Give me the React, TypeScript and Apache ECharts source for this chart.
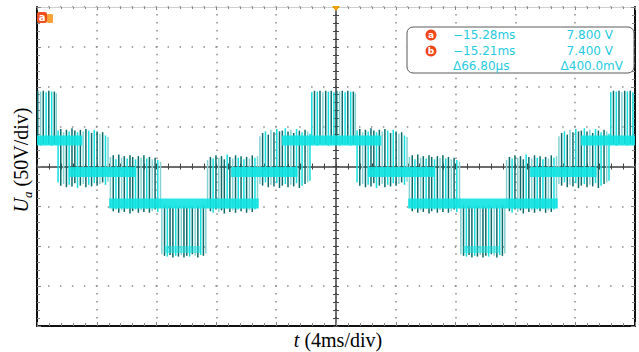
import React, { useEffect, useRef } from "react";
import * as echarts from "echarts";

// ---- axes (time in ms, voltage in V) ----
const timeMin = -20;
const timeMax = 20;
const timeStep = 4;
const voltMin = -200;
const voltMax = 200;
const voltStep = 50;

// centre times of the positive peaks of the stepped waveform (ms)
const peakTimes = [-20.17, -0.17, 19.83];

// persistent (bright) level bands, relative to a peak: start ms, end ms, level V
const bandStart = [-3.45, 2.3, 5.0, 13.15];
const bandEnd = [3.2, 6.8, 15.0, 17.6];
const bandLevel = [32.6, -6.9, -46.4, -6.9];
// faint band at the bottom of the negative peak: start, end, level
const floorBand = [8.7, 11.1, -104];

// switching pulses relative to a peak: [offset ms, low V, high V, shade]
const pulsesRise01 = [
  [-4.92, -22, 38, 2], [-4.74, -24, 42, 0], [-4.55, -20, 44, 1], [-4.36, -26, 40, 0],
  [-4.18, -23, 46, 2], [-3.98, -25, 43, 0], [-3.79, -21, 47, 1], [-3.61, -27, 44, 0],
  [-3.42, -24, 45, 0], [-3.22, -22, 48, 1], [-3.04, -26, 44, 0], [-2.85, -23, 46, 2],
  [-2.66, -25, 42, 0], [-2.47, -21, 47, 1], [-2.28, -27, 45, 0], [-2.1, -24, 43, 1],
  [-1.9, -22, 46, 0], [-1.72, -20, 44, 2], [-1.57, -18, 41, 1],
];
const pulsesTop = [
  [-1.45, 27, 93, 1], [-1.27, 28, 95, 0], [-1.08, 26, 94, 1], [-0.9, 28, 95, 0],
  [-0.71, 27, 93, 2], [-0.52, 28, 95, 0], [-0.34, 26, 94, 1], [-0.15, 28, 95, 0],
  [0.03, 27, 93, 1], [0.22, 28, 95, 0], [0.41, 26, 94, 2], [0.59, 28, 95, 0],
  [0.78, 27, 93, 1], [0.96, 28, 95, 0], [1.15, 26, 94, 1], [1.33, 28, 94, 0],
  [1.46, 27, 92, 2],
];
const pulsesFall01 = [
  [1.58, -20, 45, 1], [1.76, -24, 47, 0], [1.95, -22, 43, 2], [2.14, -26, 46, 0],
  [2.32, -23, 44, 1], [2.51, -25, 48, 0], [2.7, -21, 45, 0], [2.88, -27, 43, 1],
  [3.07, -24, 46, 0], [3.26, -22, 44, 2], [3.44, -26, 47, 0], [3.63, -23, 45, 1],
  [3.82, -25, 42, 0], [4.0, -21, 46, 1], [4.19, -24, 44, 0], [4.38, -22, 41, 2],
  [4.56, -20, 43, 0], [4.75, -23, 39, 1], [4.92, -19, 37, 2],
];
const pulsesFall10 = [
  [5.08, -52, 12, 2], [5.27, -56, 14, 0], [5.45, -54, 9, 1], [5.64, -58, 15, 0],
  [5.83, -55, 11, 2], [6.01, -57, 13, 0], [6.2, -53, 10, 1], [6.39, -59, 14, 0],
  [6.57, -56, 12, 0], [6.76, -54, 9, 1], [6.95, -58, 13, 0], [7.13, -55, 11, 2],
  [7.32, -57, 14, 0], [7.51, -53, 10, 1], [7.69, -58, 12, 0], [7.88, -56, 9, 2],
  [8.07, -54, 11, 0], [8.25, -57, 8, 1], [8.43, -52, 6, 2],
];
const pulsesBottom = [
  [8.52, -110, -50, 2], [8.7, -112, -48, 0], [8.89, -113, -52, 1], [9.07, -111, -49, 0],
  [9.26, -114, -51, 0], [9.45, -112, -48, 1], [9.63, -113, -50, 0], [9.82, -111, -52, 2],
  [10.0, -114, -49, 0], [10.19, -112, -51, 0], [10.38, -113, -48, 1], [10.56, -110, -50, 0],
  [10.75, -112, -52, 2], [10.93, -114, -49, 0], [11.12, -111, -51, 1], [11.3, -112, -48, 0],
  [11.46, -109, -50, 2],
];
const pulsesRise10 = [
  [11.58, -52, 8, 2], [11.77, -56, 12, 0], [11.95, -58, 10, 1], [12.14, -54, 14, 0],
  [12.33, -57, 11, 2], [12.51, -55, 13, 0], [12.7, -59, 9, 0], [12.89, -53, 15, 1],
  [13.07, -57, 12, 0], [13.26, -55, 10, 2], [13.45, -58, 14, 0], [13.63, -54, 11, 1],
  [13.82, -56, 13, 0], [14.01, -53, 9, 1], [14.19, -58, 12, 0], [14.38, -55, 10, 2],
  [14.57, -57, 14, 0], [14.75, -54, 11, 1], [14.92, -52, 13, 2],
];

// cursor read-out texts
const cursorA = ["\u221215.28ms", "7.800 V"];
const cursorB = ["\u221215.21ms", "7.400 V"];
const cursorDelta = ["\u039466.80\u00b5s", "\u0394400.0mV"];

const shadeColors = ["#0b6b6b", "#14e0e0", "#86d2d2"];
const traceCyan = "#0ee3e3";
const readoutColor = "#27cbe0";

function buildPulseData() {
  const regions = [pulsesRise01, pulsesTop, pulsesFall01, pulsesFall10, pulsesBottom, pulsesRise10];
  const out: number[][] = [];
  peakTimes.forEach((p) => {
    regions.forEach((reg) => {
      reg.forEach(([o, lo, hi, s]) => {
        const t = p + o;
        if (t >= timeMin && t <= timeMax) out.push([t, lo, hi, s]);
      });
    });
  });
  return out;
}

function buildBandData() {
  const out: number[][] = [];
  peakTimes.forEach((p) => {
    bandStart.forEach((s, i) => {
      const a = Math.max(timeMin, p + s);
      const b = Math.min(timeMax, p + bandEnd[i]);
      if (b > a) out.push([a, b, bandLevel[i], 0]);
    });
    const a = Math.max(timeMin, p + floorBand[0]);
    const b = Math.min(timeMax, p + floorBand[1]);
    if (b > a) out.push([a, b, floorBand[2], 1]);
  });
  return out;
}

function timeAxis(extra: any) {
  return {
    type: "value",
    min: timeMin,
    max: timeMax,
    interval: timeStep,
    axisLabel: { show: false },
    splitLine: { show: false },
    ...extra,
  };
}
function voltAxis(extra: any) {
  return {
    type: "value",
    min: voltMin,
    max: voltMax,
    interval: voltStep,
    axisLabel: { show: false },
    splitLine: { show: false },
    ...extra,
  };
}

export default function App() {
  const ref = useRef<HTMLDivElement>(null);

  useEffect(() => {
    if (!ref.current) return;
    const chart = echarts.init(ref.current, undefined, { renderer: "svg" });
    const serif = "'Liberation Serif', 'DejaVu Serif', serif";
    const sans = "'DejaVu Sans', sans-serif";

    const tickGrey = { color: "#858585", width: 1 };

    const option: any = {
      animation: false,
      backgroundColor: "#ffffff",
      grid: { left: 37, right: 4, top: 7, bottom: 26, containLabel: false },
      xAxis: [
        timeAxis({
          position: "bottom",
          axisLine: { onZero: false, lineStyle: { color: "#111", width: 2 } },
          axisTick: { show: true, inside: true, length: 4, lineStyle: tickGrey },
          minorTick: { show: true, splitNumber: 5, length: 3, lineStyle: tickGrey },
          splitLine: {
            show: true,
            lineStyle: { color: "#8a8a8a", width: 1.5, type: [1.5, 6.475], dashOffset: 0.75 },
          },
        }),
        timeAxis({
          position: "top",
          axisLine: { onZero: false, lineStyle: { color: "#cfcfcf", width: 1 } },
          axisTick: { show: true, inside: true, length: 3, lineStyle: tickGrey },
          minorTick: { show: true, splitNumber: 5, length: 2, lineStyle: tickGrey },
        }),
        timeAxis({
          position: "bottom",
          axisLine: { onZero: true, onZeroAxisIndex: 0, lineStyle: { color: "#3d3d3d", width: 1.5 } },
          axisTick: { show: true, inside: false, length: 3, lineStyle: { color: "#444" } },
          minorTick: { show: true, splitNumber: 5, length: 3, lineStyle: { color: "#444" } },
        }),
        timeAxis({
          position: "bottom",
          axisLine: { show: false, onZero: true, onZeroAxisIndex: 0 },
          axisTick: { show: true, inside: true, length: 3, lineStyle: { color: "#444" } },
          minorTick: { show: true, splitNumber: 5, length: 3, lineStyle: { color: "#444" } },
        }),
      ],
      yAxis: [
        voltAxis({
          position: "left",
          axisLine: { onZero: false, lineStyle: { color: "#111", width: 2 } },
          axisTick: { show: true, inside: true, length: 4, lineStyle: tickGrey },
          minorTick: { show: true, splitNumber: 5, length: 3, lineStyle: tickGrey },
          splitLine: {
            show: true,
            lineStyle: { color: "#8a8a8a", width: 1.5, type: [1.5, 10.46], dashOffset: 0.75 },
          },
        }),
        voltAxis({
          position: "right",
          axisLine: { onZero: false, lineStyle: { color: "#111", width: 2 } },
          axisTick: { show: true, inside: true, length: 4, lineStyle: tickGrey },
          minorTick: { show: true, splitNumber: 5, length: 3, lineStyle: tickGrey },
        }),
        voltAxis({
          position: "left",
          axisLine: { onZero: true, onZeroAxisIndex: 0, lineStyle: { color: "#3d3d3d", width: 1.5 } },
          axisTick: { show: true, inside: false, length: 3, lineStyle: { color: "#444" } },
          minorTick: { show: true, splitNumber: 5, length: 3, lineStyle: { color: "#444" } },
        }),
        voltAxis({
          position: "left",
          axisLine: { show: false, onZero: true, onZeroAxisIndex: 0 },
          axisTick: { show: true, inside: true, length: 3, lineStyle: { color: "#444" } },
          minorTick: { show: true, splitNumber: 5, length: 3, lineStyle: { color: "#444" } },
        }),
      ],
      series: [
        {
          type: "custom",
          name: "pulses",
          xAxisIndex: 0,
          yAxisIndex: 0,
          clip: true,
          encode: { x: 0, y: [1, 2] },
          data: buildPulseData(),
          renderItem: (params: any, api: any) => {
            const t = api.value(0);
            const p1 = api.coord([t, api.value(1)]);
            const p2 = api.coord([t, api.value(2)]);
            const s = api.value(3);
            return {
              type: "line",
              shape: { x1: p1[0], y1: p1[1], x2: p2[0], y2: p2[1] },
              style: { stroke: shadeColors[s], lineWidth: 1.5 },
            };
          },
        },
        {
          type: "custom",
          name: "bands",
          xAxisIndex: 0,
          yAxisIndex: 0,
          clip: true,
          encode: { x: [0, 1], y: 2 },
          data: buildBandData(),
          renderItem: (params: any, api: any) => {
            const lv = api.value(2);
            const a = api.coord([api.value(0), lv]);
            const b = api.coord([api.value(1), lv]);
            const kind = api.value(3);
            const h = kind === 0 ? 10 : 7;
            const rect = echarts.graphic.clipRectByRect(
              { x: a[0], y: a[1] - h / 2, width: b[0] - a[0], height: h },
              params.coordSys
            );
            if (!rect) return null;
            return {
              type: "rect",
              shape: rect,
              style: {
                fill: kind === 0 ? traceCyan : "rgba(20,225,225,0.55)",
                opacity: kind === 0 ? 0.9 : 1,
              },
            };
          },
        },
      ],
      graphic: [
        // trigger marker
        {
          type: "polygon",
          shape: { points: [[332, 6], [340, 6], [336, 11]] },
          style: { fill: "#f3a300" },
          z: 10,
        },
        // channel marker
        {
          type: "rect",
          shape: { x: 37, y: 12, width: 10, height: 11, r: 2 },
          style: { fill: "#f04e1e" },
          z: 10,
        },
        {
          type: "rect",
          shape: { x: 47, y: 14, width: 6, height: 9, r: 1 },
          style: { fill: "#f6a33a" },
          z: 10,
        },
        {
          type: "text",
          x: 42,
          y: 17.5,
          style: { text: "a", fill: "#fff", font: "bold 10px " + sans, align: "center", verticalAlign: "middle" },
          z: 11,
        },
        // cursor read-out
        {
          type: "rect",
          shape: { x: 407, y: 27, width: 227, height: 46, r: 6 },
          style: { fill: "#ffffff", stroke: "#5a5a5a", lineWidth: 1 },
          z: 10,
        },
        {
          type: "circle",
          shape: { cx: 431, cy: 35, r: 5.5 },
          style: { fill: "#f0461a" },
          z: 11,
        },
        {
          type: "circle",
          shape: { cx: 431, cy: 51, r: 5.5 },
          style: { fill: "#f0461a" },
          z: 11,
        },
        {
          type: "text",
          x: 431,
          y: 35,
          style: { text: "a", fill: "#fff", font: "bold 9px " + sans, align: "center", verticalAlign: "middle" },
          z: 12,
        },
        {
          type: "text",
          x: 431,
          y: 51,
          style: { text: "b", fill: "#fff", font: "bold 9px " + sans, align: "center", verticalAlign: "middle" },
          z: 12,
        },
        ...[
          [cursorA, 35, 613],
          [cursorB, 51, 613],
          [cursorDelta, 66, 623],
        ].flatMap(([row, y, rx]: any) => [
          {
            type: "text",
            x: 453,
            y,
            style: { text: row[0], fill: readoutColor, font: "12px " + sans, align: "left", verticalAlign: "middle" },
            z: 12,
          },
          {
            type: "text",
            x: rx,
            y,
            style: { text: row[1], fill: readoutColor, font: "12px " + sans, align: "right", verticalAlign: "middle" },
            z: 12,
          },
        ]),
        // axis titles
        {
          type: "text",
          x: 21,
          y: 160,
          rotation: Math.PI / 2,
          style: {
            text: "{i|U}{s|a}{n| (50V/div)}",
            align: "center",
            verticalAlign: "middle",
            fill: "#000",
            rich: {
              i: { fontFamily: serif, fontSize: 20, fontStyle: "italic", lineHeight: 26, verticalAlign: "middle", fill: "#000" },
              s: { fontFamily: serif, fontSize: 13, fontStyle: "italic", verticalAlign: "bottom", fill: "#000" },
              n: { fontFamily: serif, fontSize: 20, lineHeight: 26, verticalAlign: "middle", fill: "#000" },
            },
          },
          z: 10,
        },
        {
          type: "text",
          x: 338,
          y: 340,
          style: {
            text: "{i|t}{n| (4ms/div)}",
            align: "center",
            verticalAlign: "middle",
            fill: "#000",
            rich: {
              i: { fontFamily: serif, fontSize: 20, fontStyle: "italic", fill: "#000" },
              n: { fontFamily: serif, fontSize: 20, fill: "#000" },
            },
          },
          z: 10,
        },
      ],
    };

    chart.setOption(option);
    return () => chart.dispose();
  }, []);

  return (
    <div
      ref={ref}
      style={{ position: "absolute", left: 0, top: 0, width: 639, height: 352, background: "#fff" }}
    />
  );
}
